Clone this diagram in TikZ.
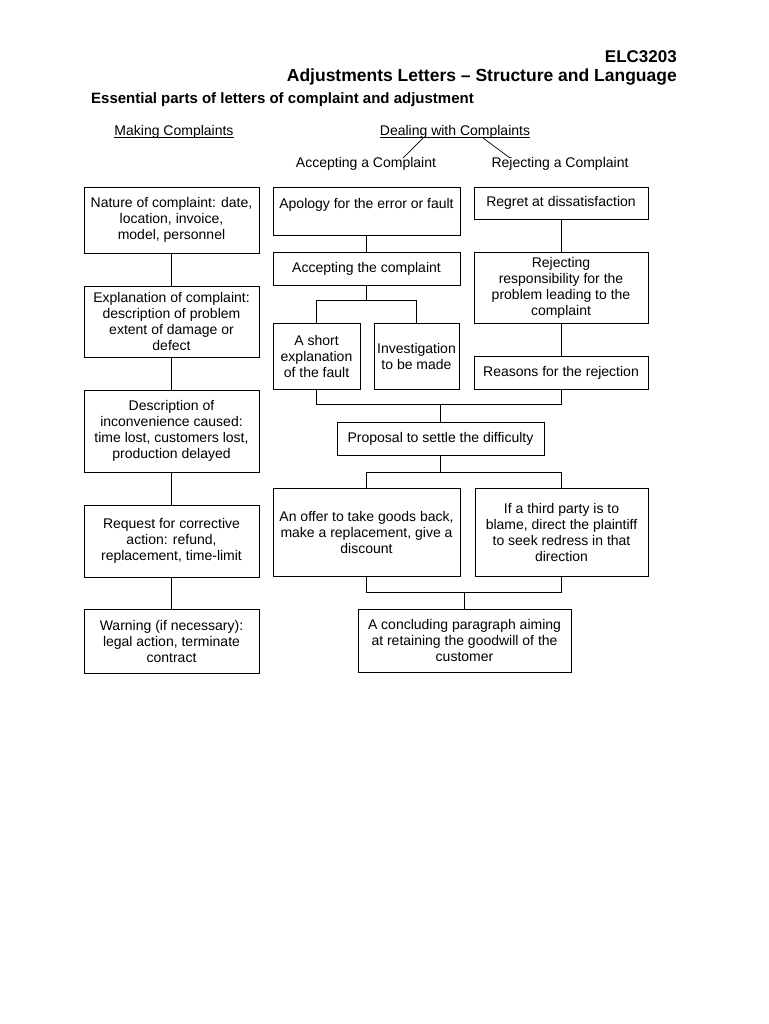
\documentclass[tikz,border=0pt]{standalone}
\usepackage{fontspec}
\setmainfont{Liberation Sans}
\begin{document}
\begin{tikzpicture}[x=1pt,y=-1pt,
  box/.style={draw,line width=0.9pt,align=center,inner sep=0pt,font=\fontsize{14}{16}\selectfont},
  lab/.style={inner sep=0pt,font=\fontsize{14}{16}\selectfont},
  conn/.style={line width=0.9pt}]
\fill[white] (0,0) rectangle (768,1024);
\useasboundingbox (0,0) rectangle (768,1024);
% titles
\node[inner sep=0pt,anchor=east,font=\fontsize{17}{20}\selectfont\bfseries] (elc) at (677,57) {ELC3203};
\node[inner sep=0pt,anchor=east,font=\fontsize{17.5}{20}\selectfont\bfseries] (ttl) at (677,77) {Adjustments Letters – Structure and Language};
\node[inner sep=0pt,anchor=west,font=\fontsize{15}{18}\selectfont\bfseries] (ess) at (91,100) {Essential parts of letters of complaint and adjustment};
% column headings
\node[lab] (mk) at (174,132) {Making Complaints};
\node[lab] (dl) at (455,132) {Dealing with Complaints};
\node[lab] (acc) at (366,164) {Accepting a Complaint};
\node[lab] (rej) at (560,164) {Rejecting a Complaint};
\draw[line width=0.7pt] ([yshift=-2]mk.base west) -- ([yshift=-2]mk.base east);
\draw[line width=0.7pt] ([yshift=-2]dl.base west) -- ([yshift=-2]dl.base east);
\coordinate (d1) at (423,138);
\coordinate (e1) at (403,158);
\coordinate (d2) at (483,138);
\coordinate (e2) at (510,158);
\draw[line width=0.7pt] (d1) -- (e1);
\draw[line width=0.7pt] (d2) -- (e2);
% left column
\node[box,minimum width=175,minimum height=66] (b1) at (171.5,220) {Nature of complaint: date,\\location, invoice,\\model, personnel};
\node[box,minimum width=175,minimum height=71] (b2) at (171.5,321.5) {Explanation of complaint:\\description of problem\\extent of damage or\\defect};
\node[box,minimum width=175,minimum height=82] (b3) at (171.5,431) {Description of\\inconvenience caused:\\time lost, customers lost,\\production delayed};
\node[box,minimum width=175,minimum height=72] (b4) at (171.5,541) {Request for corrective\\action: refund,\\replacement, time-limit};
\node[box,minimum width=175,minimum height=64] (b5) at (171.5,641) {Warning (if necessary):\\legal action, terminate\\contract};
\draw[conn] (b1) -- (b2);
\draw[conn] (b2) -- (b3);
\draw[conn] (b3) -- (b4);
\draw[conn] (b4) -- (b5);
% accepting column
\node[box,minimum width=187,minimum height=48] (a1) at (366.5,211) {Apology for the error or fault\\[-5pt]\strut};
\node[box,minimum width=187,minimum height=33] (a2) at (366.5,268.5) {Accepting the complaint};
\node[box,minimum width=87,minimum height=66] (a3) at (316.5,356) {A short\\explanation\\of the fault};
\node[box,minimum width=85,minimum height=66] (a4) at (416.5,356) {Investigation\\to be made};
\draw[conn] (a1) -- (a2);
\path (a2.south) ++(0,15) coordinate (j1);
\draw[conn] (a2.south) -- (j1);
\draw[conn] (a3.north) |- (j1) -| (a4.north);
% rejecting column
\node[box,minimum width=174,minimum height=32] (r1) at (561,203) {Regret at dissatisfaction};
\node[box,minimum width=174,minimum height=71] (r2) at (561,287.5) {Rejecting\\responsibility for the\\problem leading to the\\complaint};
\node[box,minimum width=174,minimum height=33] (r3) at (561,372.5) {Reasons for the rejection};
\draw[conn] (r1) -- (r2);
\draw[conn] (r2) -- (r3);
% proposal
\node[box,minimum width=207,minimum height=33] (p) at (440.5,438.5) {Proposal to settle the difficulty};
\path (p.north) ++(0,-17) coordinate (j2);
\draw[conn] (a3.south) |- (j2) -| (r3.south);
\draw[conn] (j2) -- (p.north);
% offers
\node[box,minimum width=187,minimum height=88] (o1) at (366.5,532) {An offer to take goods back,\\make a replacement, give a\\discount};
\node[box,minimum width=173,minimum height=88] (o2) at (561.5,532) {If a third party is to\\blame, direct the plaintiff\\to seek redress in that\\direction};
\path (p.south) ++(0,17) coordinate (j3);
\draw[conn] (p.south) -- (j3);
\draw[conn] (o1.north) |- (j3) -| (o2.north);
% concluding
\node[box,minimum width=213,minimum height=63] (c) at (464.5,640.5) {A concluding paragraph aiming\\at retaining the goodwill of the\\customer};
\path (c.north) ++(0,-16) coordinate (j4);
\draw[conn] (o1.south) |- (j4) -| (o2.south);
\draw[conn] (j4) -- (c.north);
\end{tikzpicture}
\end{document}
